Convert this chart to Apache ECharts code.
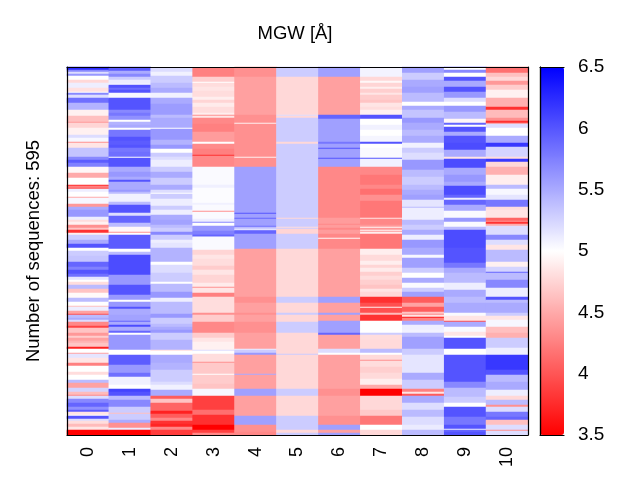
<!DOCTYPE html>
<html><head><meta charset="utf-8">
<style>html,body{margin:0;background:#fff}#c{width:640px;height:480px}</style>
<script src="https://cdn.jsdelivr.net/npm/echarts@6/dist/echarts.min.js"></script>
</head><body><div id="c"></div>
<script>
// Each column: pairs of (last displayed row of the run, MGW value).
const positions = ['0','1','2','3','4','5','6','7','8','9','10'];
const titleText = 'MGW [Å]';
const rowLabel = 'Number of sequences: 595';
const rowCount = 368;
const col0 = [3,6.25,5,5.7,7,5.2,9,5.6,13,5,16,4.77,21,5.1,25,4.82,26,5,28,5.7,31,5.2,36,5.85,43,5.45,49,4.92,55,4.63,56,4.4,61,4.75,68,4.92,71,5.2,75,5.05,76,4.35,81,4.85,90,5.35,93,5.7,96,5.95,100,5.75,106,4.95,111,4.5,118,5,119,3.78,121,4.25,122,3.97,125,5.1,130,5,131,4.5,137,5.05,140,4.4,143,5.5,150,5.6,153,5.1,155,4.8,158,4.92,161,4.35,163,4.65,166,3.78,168,4.9,173,5.3,177,5.5,181,6,184,5,189,5.3,195,5.35,200,5.9,203,5.75,207,6,210,5.85,213,5.15,215,5,218,4.8,222,5.4,226,4.65,231,4.97,235,5.4,239,5,240,4.63,244,5.1,247,4.45,248,3.97,251,5.4,253,5.5,255,5.2,259,4.3,261,3.9,266,4.65,269,4.4,271,4.7,274,4.45,276,4.55,280,4.65,282,3.7,286,5,287,4.45,291,5.15,296,4.85,299,4.25,305,5,308,4.8,313,5,316,5.4,321,4.45,325,5.25,328,4.6,329,4.3,332,5.2,336,5.7,340,5.9,343,5.65,345,5.95,348,4.85,349,5,352,6,354,5.2,357,4.8,360,4.6,363,4.85,368,3.5];
const col1 = [4,5.95,7,5.5,10,5.7,13,5.3,17,5.1,18,5,21,6,23,5.85,26,6,31,5.05,32,6,43,6,46,5.7,49,5.8,53,5.65,55,5,58,5.45,61,5.5,63,5,70,5.8,74,6,78,5.95,81,6,85,5.8,90,5.85,91,5,100,6,105,5.5,110,5.6,113,5.5,115,6,123,5.5,125,5.6,127,5.4,135,5.08,138,5.4,146,6,149,5.2,156,5.9,160,5.4,165,4.96,166,4.35,168,5,182,5.95,185,5,188,5.4,208,6.05,218,5.6,228,6,233,5.6,235,5,240,5.6,242,6,248,5.5,254,5.55,255,5.9,258,5.5,260,6.05,264,5.5,266,5.9,268,5,283,5.6,288,5,298,5.95,306,5.6,310,5.85,318,5.08,322,5,325,6.1,329,6,333,5.4,340,5.7,346,5.3,347,4.63,353,5.3,356,5.5,361,4.35,363,5.1,368,3.5];
const col2 = [1,5,5,5.2,9,5.08,16,5.3,21,5.4,26,5.5,31,5.08,37,5.5,48,5.58,51,5.4,61,5.5,62,5,73,5.6,78,5.45,82,5.6,86,5,90,5.3,93,5.2,100,5.1,105,5.3,111,5.5,118,5.3,123,5.5,126,5.2,127,5,132,5.3,139,5.1,143,5.3,148,5.1,153,5.5,158,5.55,161,5.4,165,5.3,168,5.7,173,5.3,176,5.1,181,5.15,195,5.45,198,5,206,5.2,215,5.3,217,5,225,5.4,231,5.6,235,5.1,247,5.4,251,5.6,257,5.3,260,5.4,263,5.5,266,5.6,273,5.3,283,5.45,284,4.8,288,5,296,5.5,303,5.45,307,5.3,315,5.3,318,5.2,323,5.08,329,5.5,332,4.05,336,4.65,344,4.1,347,3.7,351,4.05,354,4.3,357,3.8,360,3.72,363,4.3,368,3.85];
const col3 = [1,5,10,4.25,15,4.72,16,5,20,4.8,24,4.85,30,4.8,33,4.9,36,4.75,40,4.88,46,4.8,48,4.9,49,4.35,51,4.85,57,4.3,65,4.25,75,4.42,77,5,82,4.32,88,4.25,89,3.78,94,4.3,100,4.3,118,5.03,121,5.09,136,5.02,138,5.08,144,5.03,145,4.35,152,5.03,155,5.1,156,5.7,159,5,164,5.6,168,5.75,169,6,170,5.6,183,5.03,188,4.75,192,4.85,199,4.8,203,4.7,208,4.85,216,4.75,220,4.88,221,4.35,226,4.85,230,4.25,236,4.8,246,4.8,248,4.35,255,4.7,266,4.3,271,4.7,275,4.85,283,4.92,284,5.2,287,5,295,4.8,296,4.35,307,4.68,308,5,317,4.7,322,4.65,329,5.05,343,3.88,348,4.15,358,3.78,363,3.5,366,3.88,368,4.3];
const col4 = [10,4.35,48,4.44,56,4.35,57,4.9,90,4.35,91,4.9,100,4.35,146,5.56,147,6,151,5.56,152,5.9,159,5.56,160,5.85,162,5.4,163,5,164,5.7,167,5.9,182,5.56,230,4.44,236,4.35,246,4.44,248,4.35,255,4.44,266,4.35,282,4.44,283,5.1,286,5.3,288,5.6,307,4.44,308,5.5,322,4.44,329,5.56,349,4.44,358,5.56,365,4.35,368,4.3];
const col5 = [10,5.3,48,4.77,49,5.2,51,4.77,75,5.3,77,4.77,151,5.3,152,4.77,160,5.3,161,4.8,162,5.3,167,4.75,182,5.3,230,4.77,236,5.3,246,4.77,248,5.3,255,4.77,266,5.3,287,4.77,288,5.3,322,4.77,329,5.3,349,4.77,363,5.3,366,4.77,368,5.3];
const col6 = [10,5.56,48,4.44,52,5.9,75,5.56,77,5.8,81,5.56,82,6,91,5.56,92,6,100,5.56,151,4.3,157,4.42,158,4.3,161,4.42,163,4.3,167,4.42,171,4.3,172,4.95,182,4.3,230,4.44,236,5.56,246,4.44,248,5.56,254,4.44,266,5.56,268,5.9,282,4.44,286,5.2,288,5,322,4.44,329,4.35,349,4.44,358,4.35,363,5.56,366,4.44,368,5.56];
const col7 = [10,5.07,14,4.77,16,4.95,20,4.75,22,4.9,26,4.72,28,4.85,33,4.7,36,4.65,40,4.85,43,4.8,48,4.92,52,6,58,5,63,5.08,69,5,75,5.06,77,6,81,5,91,5.03,92,6,100,5.08,108,4.3,118,4.2,122,4.3,128,4.16,134,4.35,151,4.2,152,4.85,158,4.3,160,4.4,161,4.95,163,4.4,164,4.95,165,4.4,167,4.9,182,4.2,188,4.9,194,4.78,198,4.9,201,4.75,205,4.88,209,4.72,213,4.8,218,4.72,222,4.65,225,4.85,230,4.77,236,3.78,240,3.97,241,4.9,246,3.97,248,4.6,254,3.8,255,5,266,5,268,5.3,273,4.8,282,4.78,286,5.4,288,5,293,4.78,294,4.35,300,4.8,306,4.72,312,4.78,318,4.9,322,4.5,329,3.5,343,4.77,349,4.68,358,4.2,363,5,368,4.77];
const col8 = [6,5.56,13,5.3,20,5.5,26,5.56,35,5.4,39,5,43,5.5,51,5.35,56,5.6,63,5.5,69,5.4,76,5.5,81,5.08,86,5.3,93,5.2,103,5.6,110,5.4,118,5.3,123,5.4,128,5.5,133,5.56,140,5.15,141,5.4,148,5.1,153,5.1,158,5.4,163,5.3,168,5.5,173,5.1,181,5.6,188,5.5,191,5.05,201,5.56,206,5.3,211,5,216,5.5,221,5.03,225,5.3,230,5.56,236,4.05,240,4.45,245,4.05,247,4.65,248,4.3,250,4.85,251,3.67,254,4.25,258,5.5,263,5.1,266,5.08,270,5.4,282,5.56,288,5.3,298,5.15,306,5.15,313,5.5,322,5.3,325,4.25,327,4.85,329,4.05,336,5.5,343,5.2,350,5.4,358,5.2,363,5.12,368,5.4];
const col9 = [1,6,3,5,6,5.7,10,5,14,6,20,5.5,25,6,31,5.6,35,5.2,39,5,45,5.6,52,5.4,56,4.95,58,5.9,60,5,65,6,69,5.5,76,6,83,6.05,90,5.5,92,4.85,101,6.05,108,5.5,115,5.6,119,5.5,128,6.05,131,5.9,133,5.1,138,5.9,144,5.5,151,5.03,155,5.6,160,5.03,163,5.4,181,6.05,196,6,201,5.8,206,5.5,216,5.4,223,5.1,230,5.5,236,5.4,246,5.5,249,5.03,254,4.85,255,3.97,260,5.5,265,5.03,269,4.85,271,5,282,6,288,5,315,6,321,5.7,330,5.4,336,5.3,340,5,350,6,358,5.8,362,6,363,5.1,365,5.9,368,6];
const col10 = [6,4.16,10,4.63,14,4.77,18,4.4,23,4.7,31,4.92,40,4.54,43,3.78,51,4.6,54,4.35,56,3.78,57,4.35,61,5.2,69,5,76,5.5,80,6.17,90,5.25,92,4.8,95,6.17,100,4.77,108,4.54,118,4.9,122,5.4,128,5.05,133,5.15,140,5.8,143,4.8,151,4.85,154,4.1,155,4.4,157,3.8,159,4.5,168,5.2,173,5.7,178,5.2,183,4.85,195,5.4,200,4.92,205,5.25,206,5.9,213,5.4,221,5.7,230,5.1,233,6,236,5.4,246,5.5,249,5.3,253,4.85,260,5.05,266,4.63,271,4.54,281,5.3,288,5.1,303,6.17,308,6,315,5.4,323,5.5,329,5.1,333,4.77,338,5.4,340,4.35,345,5.2,350,5.8,353,5.9,358,4.63,363,5.2,364,4.35,368,5.2];
const columns = [col0,col1,col2,col3,col4,col5,col6,col7,col8,col9,col10];

const cells = [];
columns.forEach((runs, x) => {
  let row = 0;
  for (let i = 0; i < runs.length; i += 2) {
    for (; row < runs[i] && row < rowCount; row++) cells.push([x, row, runs[i + 1]]);
  }
});
const rows = Array.from({length: rowCount}, (_, i) => String(i));
const font = '"Liberation Sans", Arial, sans-serif';
const frame = {show: true, lineStyle: {color: '#000', width: 1.2}};
const plain = {axisLine: frame, axisTick: {show: false}, axisLabel: {show: false}, splitLine: {show: false}, z: 10};
const chart = echarts.init(document.getElementById('c'), null, {renderer: 'canvas'});
chart.setOption({
  animation: false,
  backgroundColor: '#fff',
  textStyle: {fontFamily: font, color: '#000'},
  title: {text: titleText, left: 295, top: 24, textAlign: 'center', padding: 0,
    textStyle: {fontFamily: font, fontSize: 18.5, fontWeight: 'normal', color: '#000'}},
  tooltip: {show: false},
  grid: [
    {left: 67, top: 67, width: 461, height: 368},
    {left: 540, top: 67, width: 24, height: 368}
  ],
  xAxis: [
    {type: 'category', gridIndex: 0, data: positions, position: 'bottom', z: 10,
      axisLine: frame, axisTick: {show: false}, splitLine: {show: false},
      axisLabel: {rotate: 90, fontSize: 18, color: '#000', margin: 12, fontFamily: font, interval: 0}},
    {type: 'value', gridIndex: 0, position: 'top', min: 0, max: 1, ...plain},
    {type: 'value', gridIndex: 1, position: 'bottom', min: 0, max: 1, ...plain},
    {type: 'value', gridIndex: 1, position: 'top', min: 0, max: 1, ...plain}
  ],
  yAxis: [
    {type: 'category', gridIndex: 0, data: rows, inverse: true, position: 'left',
      name: rowLabel, nameLocation: 'middle', nameGap: 24, nameRotate: 90,
      nameTextStyle: {fontFamily: font, fontSize: 18.5, color: '#000'}, ...plain},
    {type: 'value', gridIndex: 0, position: 'right', min: 0, max: 1, ...plain},
    {type: 'value', gridIndex: 1, position: 'right', min: 3.5, max: 6.5, interval: 0.5, z: 10,
      axisLine: frame, axisTick: {show: false}, splitLine: {show: false},
      axisLabel: {fontSize: 19, color: '#000', margin: 14, fontFamily: font,
        formatter: v => String(v)}},
    {type: 'value', gridIndex: 1, position: 'left', min: 3.5, max: 6.5, ...plain}
  ],
  visualMap: {
    type: 'continuous', min: 3.5, max: 6.5, seriesIndex: 0, dimension: 2,
    left: 540, top: 67, itemWidth: 24, itemHeight: 368, calculable: false,
    realtime: false, showLabel: false, text: null, padding: 0, hoverLink: false, z: 1,
    inRange: {color: ['#ff0000', '#ffffff', '#0000ff']}
  },
  series: [{
    type: 'heatmap', xAxisIndex: 0, yAxisIndex: 0, data: cells,
    progressive: 0, silent: true, itemStyle: {borderWidth: 0},
    emphasis: {disabled: true}
  }]
});
</script>
</body></html>
